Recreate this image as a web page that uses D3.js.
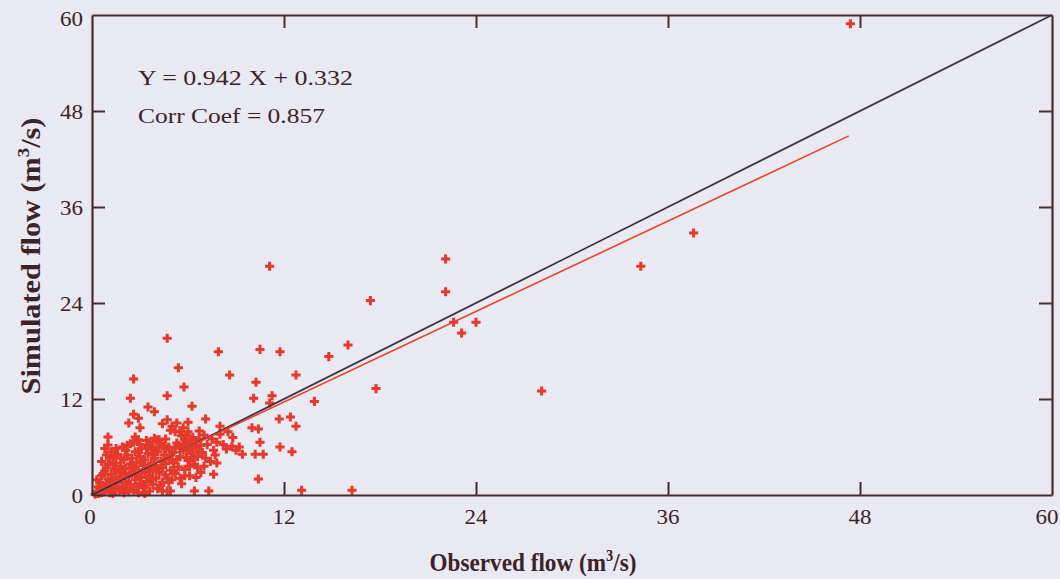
<!DOCTYPE html>
<html><head><meta charset="utf-8">
<script src="https://cdn.jsdelivr.net/npm/d3@7"></script>
<style>
html,body{margin:0;padding:0;background:#e9e9f1;}
svg{display:block;}
</style></head>
<body>
<svg id="chart" width="1060" height="579"></svg>
<script>
// ---------- data ----------
const xTicks = [0, 12, 24, 36, 48, 60];
const yTicks = [0, 12, 24, 36, 48, 60];
const xDomain = [0, 60];
const yDomain = [0, 60];
const slope = 0.942, intercept = 0.332, corr = 0.857, fitMaxX = 47.3;
const annotation = ["Y = 0.942 X + 0.332", "Corr Coef = 0.857"];
const xTitle = ["Observed flow (m", "3", "/s)"];
const yTitle = ["Simulated flow (m", "3", "/s)"];

// observed flow (x) and simulated flow (y)
const observed = [
 47.4,37.6,34.3,28.1,24.0,23.1,22.6,22.1,22.1,17.4,17.75,16.0,16.25,14.8,13.1,12.75,13.9,11.1,10.5,11.75,
 7.9,4.7,8.6,10.25,10.1,11.25,11.1,12.4,11.7,12.75,5.4,5.75,2.6,2.4,4.7,6.25,3.5,3.9,2.6,2.9,
 2.3,7.1,8.0,8.5,10.0,10.4,10.5,11.75,12.5,10.2,10.7,9.4,8.75,9.0,8.4,10.4,7.6,7.8,7.7,6.0,
 5.7,5.9,4.1,3.0,2.7,2.9,4.2,5.2,6.0,5.8,1.0,1.0,6.5,4.4,4.7,5.0,5.3,4.9,5.5,9.2,
 0.2,0.3,0.4,0.5,0.6,0.7,0.8,0.9,1.0,1.0,1.1,1.2,1.2,1.3,1.4,1.4,1.5,1.5,1.6,1.7,
 1.7,1.8,1.8,1.9,2.0,2.0,2.1,2.1,2.2,2.2,2.3,2.4,2.4,2.5,2.5,2.6,2.6,2.7,2.7,2.8,
 2.8,2.9,3.0,3.0,3.1,3.1,3.2,3.2,3.3,3.3,3.4,3.5,3.5,3.6,3.6,3.7,3.7,3.8,3.8,3.9,
 4.0,4.0,4.1,4.1,4.2,4.3,4.3,4.4,4.4,4.5,4.6,4.6,4.7,4.8,4.8,4.9,5.0,5.0,5.1,5.2,
 5.3,5.4,5.5,5.6,5.7,5.8,5.9,6.0,6.1,6.2,6.3,6.4,6.5,6.6,6.8,6.9,7.0,7.2,7.4,7.5,
 7.8,8.0,0.5,0.6,0.8,1.0,1.1,1.2,0.9,0.4,1.3,2.0,2.9,3.3,4.4,4.9,6.4,7.3,
 2.2,2.6,3.4,3.9,4.6,5.6,6.1,6.7,6.7,1.5,2.0,3.6,4.5,5.2,6.3,7.0,
 0.3,0.5,0.7,0.9,1.1,1.3,1.5,1.6,1.8,1.9,2.1,2.3,2.5,2.7,2.9,3.1,3.3,3.5,3.7,3.9,
 4.1,4.3,4.5,4.7,4.9,5.1,5.3,5.5,5.7,5.9,6.1,6.3,6.5,6.7,0.6,0.8,1.4,1.9,2.4,2.8,
 3.4,3.8,4.2,4.8,5.4,5.8,6.2,6.6,7.1,7.6,8.2,8.8,3.0,3.6,4.0,4.6,5.0,5.6,6.0,6.8
];
const simulated = [
 58.9,32.75,28.6,13.0,21.6,20.25,21.6,29.5,25.4,24.3,13.3,18.75,0.6,17.3,0.6,15.0,11.7,28.6,18.2,17.9,
 17.9,19.6,15.0,14.1,12.1,12.4,11.5,9.75,9.5,8.6,15.9,13.5,14.5,12.1,12.4,11.1,11.0,10.4,10.1,9.6,
 9.0,9.5,8.6,7.9,8.4,8.25,6.6,6.0,5.4,5.1,5.1,5.1,6.1,5.6,5.75,2.0,2.6,4.0,5.0,9.1,
 8.4,7.5,6.9,8.4,7.25,6.9,6.9,7.9,7.9,6.9,7.25,6.25,6.75,8.9,9.4,8.6,9.0,8.1,8.0,6.0,
 0.1,0.4,0.2,0.6,0.3,1.0,0.5,1.4,0.8,2.0,1.2,0.4,2.6,1.8,3.2,0.9,2.2,4.0,1.5,2.9,
 0.6,3.6,2.0,1.1,4.4,2.6,3.3,1.6,0.8,5.0,2.3,3.9,1.3,4.6,2.9,0.6,3.5,1.9,5.4,4.1,
 2.5,3.1,1.4,4.8,2.2,5.8,3.7,0.9,2.8,4.4,1.7,3.3,5.2,2.4,0.5,4.0,6.0,3.0,1.3,4.6,
 2.1,3.6,5.4,0.8,2.8,4.2,6.4,3.4,1.6,5.0,2.5,3.9,0.5,4.6,6.0,3.1,1.9,5.4,4.0,2.7,
 6.5,3.5,4.8,1.4,5.6,3.2,6.8,4.3,2.4,5.2,7.2,3.8,6.0,4.8,2.8,5.3,7.5,6.3,4.2,7.0,
 6.6,7.6,1.6,2.4,3.0,3.8,4.6,5.4,5.0,1.0,0.2,0.3,0.3,0.2,0.5,0.5,0.5,0.5,
 6.2,6.6,6.8,7.1,7.0,7.4,6.4,7.0,8.0,5.8,5.9,6.3,6.1,5.9,4.6,3.6,
 1.9,1.1,2.7,3.4,0.3,3.9,1.0,5.1,4.6,6.0,5.6,0.4,3.7,3.0,5.3,4.1,1.0,6.2,2.0,5.6,
 3.3,1.2,6.1,2.1,5.0,3.0,4.4,2.1,6.2,4.7,3.6,5.8,2.2,5.4,4.2,5.8,4.9,2.9,6.4,1.1,
 5.8,5.0,6.0,1.6,6.2,2.4,6.9,3.5,4.6,5.6,6.3,7.2,6.3,6.6,6.8,5.8,4.4,5.9,5.5,6.2
];

// ---------- layout ----------
const svg = d3.select("#chart");
const W = 1060, H = 579;
const mLeft = 92, mRight = 1052, mTop = 15, mBottom = 495;
const ink = "#4a2c30", txt = "#3b2428";
const serif = "'Liberation Serif','Times New Roman',serif";

svg.append("rect").attr("width", W).attr("height", H).attr("fill", "#e9e9f1");

const x = d3.scaleLinear().domain(xDomain).range([mLeft, mRight]);
const y = d3.scaleLinear().domain(yDomain).range([mBottom, mTop]);

const plot = svg.append("g");

// points
const pts = d3.range(observed.length).map(i => [observed[i], simulated[i]]);
const sym = d3.symbol().type(d3.symbolCross).size(46);
plot.append("g").selectAll("path").data(pts).join("path")
  .attr("d", sym)
  .attr("transform", d => `translate(${x(d[0])},${y(d[1])})`)
  .attr("fill", "#e5392c");

// 1:1 line and fitted line
const line = d3.line().x(d => x(d[0])).y(d => y(d[1]));
plot.append("path").datum([[0, 0], [60, 60]]).attr("d", line)
  .attr("fill", "none").attr("stroke", "#3a3040").attr("stroke-width", 1.6);
plot.append("path").datum([[0, intercept], [fitMaxX, slope * fitMaxX + intercept]]).attr("d", line)
  .attr("fill", "none").attr("stroke", "#e8402c").attr("stroke-width", 1.6);

// axes (box with inward ticks)
const tl = 13;
const axB = svg.append("g").attr("transform", `translate(0,${mBottom})`)
  .call(d3.axisBottom(x).tickValues(xTicks.slice(1, -1)).tickSizeInner(-tl).tickSizeOuter(0).tickFormat(""));
const axT = svg.append("g").attr("transform", `translate(0,${mTop})`)
  .call(d3.axisTop(x).tickValues(xTicks.slice(1, -1)).tickSizeInner(-tl).tickSizeOuter(0).tickFormat(""));
const axL = svg.append("g").attr("transform", `translate(${mLeft},0)`)
  .call(d3.axisLeft(y).tickValues(yTicks.slice(1, -1)).tickSizeInner(-tl).tickSizeOuter(0).tickFormat(""));
const axR = svg.append("g").attr("transform", `translate(${mRight},0)`)
  .call(d3.axisRight(y).tickValues(yTicks.slice(1, -1)).tickSizeInner(-tl).tickSizeOuter(0).tickFormat(""));
[axB, axT, axL, axR].forEach(a => {
  a.selectAll("path.domain").attr("stroke", ink).attr("stroke-width", 2.2);
  a.selectAll(".tick line").attr("stroke", ink).attr("stroke-width", 2);
});

// stretched text helper
function stext(parent, px, py, parts, o) {
  const g = parent.append("g");
  const t = g.append("text").attr("x", 0).attr("y", 0)
    .attr("font-family", serif).attr("font-size", o.size)
    .attr("font-weight", o.bold ? "bold" : "normal")
    .attr("fill", txt).attr("text-anchor", o.anchor || "start");
  if (Array.isArray(parts)) {
    t.append("tspan").text(parts[0]);
    t.append("tspan").attr("dy", -o.size * 0.4).attr("font-size", o.size * 0.62).text(parts[1]);
    t.append("tspan").attr("dy", o.size * 0.4).text(parts[2]);
  } else t.text(parts);
  let sx = o.sx || 1;
  if (o.width) sx = o.width / t.node().getBBox().width;
  g.attr("transform", `translate(${px},${py}) rotate(${o.rot || 0}) scale(${sx},1)`);
  return g;
}

// tick labels
xTicks.forEach(v => stext(svg, x(v) + (v === 0 ? -2 : v === 60 ? -5 : 0), 524, String(v), {size: 20, sx: 1.15, anchor: "middle"}));
yTicks.forEach(v => stext(svg, 83, y(v) + (v === 60 ? 11 : 8), String(v), {size: 20, sx: 1.15, anchor: "end"}));

// annotation
stext(svg, 138, 85, annotation[0], {size: 20, width: 215});
stext(svg, 138, 123, annotation[1], {size: 20, width: 187});

// axis titles
stext(svg, 533, 571, xTitle, {size: 26, bold: true, width: 207, anchor: "middle"});
stext(svg, 40, 256, yTitle, {size: 27, bold: true, width: 277, anchor: "middle", rot: -90});
</script>
</body></html>
